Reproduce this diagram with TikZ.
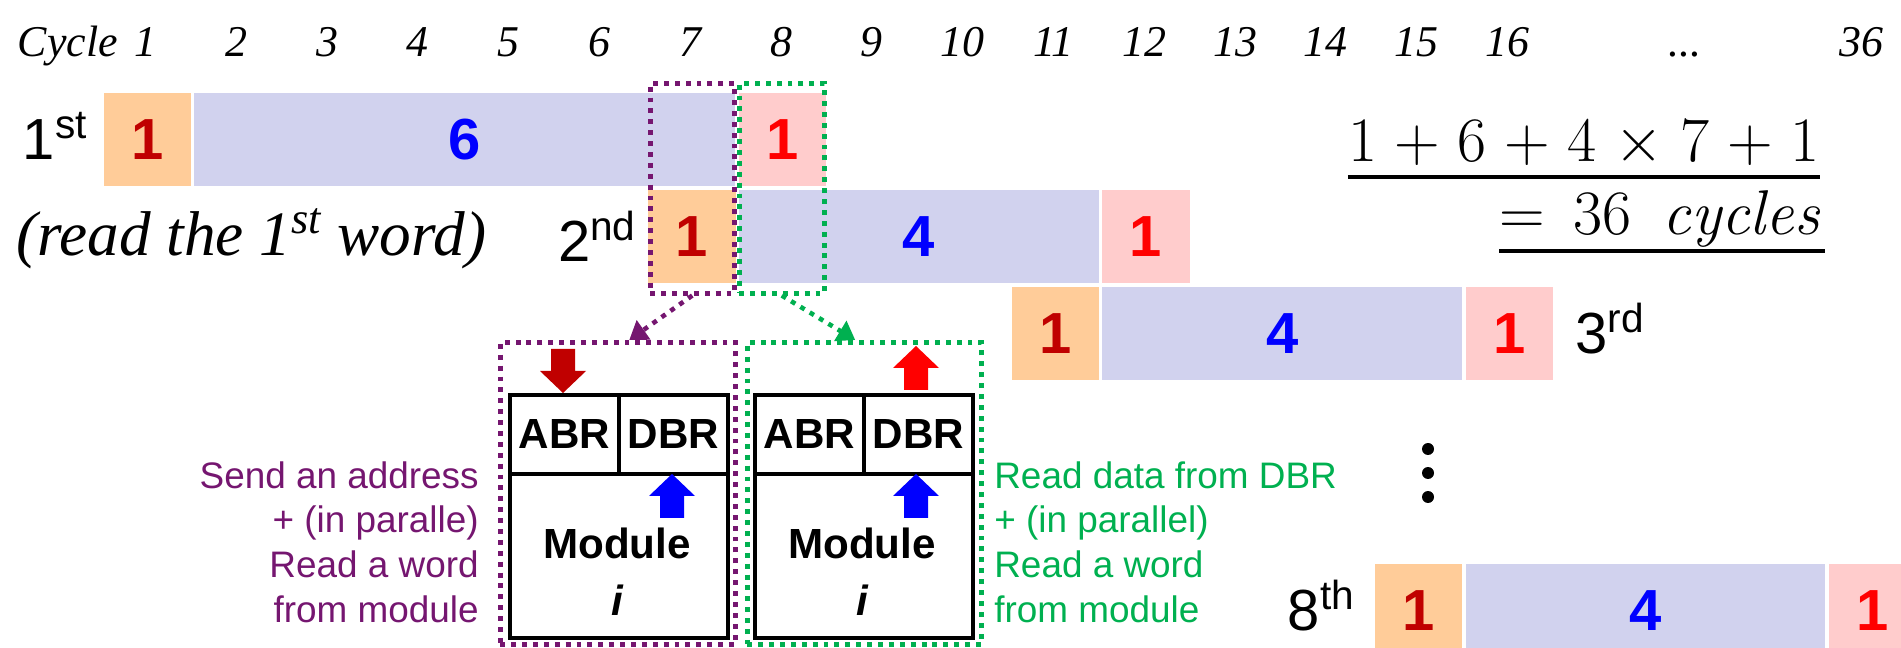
\documentclass[tikz,border=0pt]{standalone}
\usepackage{fix-cm}
\usepackage[no-math]{fontspec}
\setmainfont{Liberation Sans}
\newfontfamily\cyclefont{Liberation Serif}
\usetikzlibrary{positioning, arrows.meta}

\definecolor{addrfill}{RGB}{255,204,153}
\definecolor{waitfill}{RGB}{209,210,238}
\definecolor{xferfill}{RGB}{255,204,204}
\definecolor{addrtext}{RGB}{192,0,0}
\definecolor{waittext}{RGB}{0,0,255}
\definecolor{xfertext}{RGB}{255,0,0}
\definecolor{sendcol}{RGB}{117,22,112}
\definecolor{readcol}{RGB}{0,176,80}

\begin{document}
\begin{tikzpicture}[x=0.02cm, y=-0.02cm,
    cyclab/.style={anchor=base, inner sep=0pt, font=\cyclefont\itshape\fontsize{25}{25}\selectfont},
    slot/.style={draw=white, line width=2pt, anchor=north west, minimum height=1.94cm, inner sep=0pt, font=\bfseries\fontsize{33}{33}\selectfont},
    addr/.style={slot, fill=addrfill, text=addrtext},
    wait/.style={slot, fill=waitfill, text=waittext},
    xfer/.style={slot, fill=xferfill, text=xfertext},
    rowlab/.style={inner sep=0pt, font=\fontsize{33}{33}\selectfont},
    dotbox/.style={line width=2.6pt, dash pattern=on 2.8pt off 3.4pt, inner sep=0pt, anchor=north west},
    link/.style={line width=2.6pt, dash pattern=on 2.8pt off 3.4pt, -{Triangle[length=10pt,width=13pt]}},
    reg/.style={draw, line width=2.2pt, anchor=north west, inner sep=0pt, font=\bfseries\fontsize{24}{24}\selectfont},
    note/.style={inner sep=0pt, font=\fontsize{21}{25.5}\selectfont},
    uparrow/.pic={\fill (-12,44) -- (12,44) -- (12,22) -- (23,22) -- (0,0) -- (-23,22) -- (-12,22) -- cycle;}
  ]
  \useasboundingbox (0,0) rectangle (1901,648);
  \clip (0,0) rectangle (1901,648);

  % cycle numbers along the top
  \foreach \k in {1,...,16}
    \node[cyclab] (c\k) at ({100+(\k-0.5)*90.8},57) {\k};
  \node[cyclab, base left=0.32cm of c1] (cyc) {Cycle};
  \node[cyclab] (cdots) at (1685,57) {...};
  \node[cyclab] (c36) at (1861,57) {36};

  % one row per word: address, access, transfer
  \foreach \nm/\sty/\first/\len/\top/\val in {a1/addr/1/1/89/1, w1/wait/2/6/89/6, x1/xfer/8/1/89/1,
      a2/addr/7/1/186/1, w2/wait/8/4/186/4, x2/xfer/12/1/186/1,
      a3/addr/11/1/283/1, w3/wait/12/4/283/4, x3/xfer/16/1/283/1,
      a8/addr/15/1/560/1, w8/wait/16/4/560/4, x8/xfer/20/1/560/1}
    \node[\sty, minimum width=\len*1.816cm] (\nm) at ({100+(\first-1)*90.8},\top) {\val};

  \node[rowlab, base left=0.24cm of a1] (n1) {1\textsuperscript{st}};
  \node[rowlab, base left=0.16cm of a2, yshift=-0.1cm] (n2) {2\textsuperscript{nd}};
  \node[rowlab, base right=0.38cm of x3] (n3) {3\textsuperscript{rd}};
  \node[rowlab, base left=0.32cm of a8] (n8) {8\textsuperscript{th}};
  \node[anchor=base west, inner sep=0pt, font=\cyclefont\itshape\fontsize{36}{36}\selectfont] (firstword) at (16,256) {(read the 1\textsuperscript{st} word)};

  \foreach \dy in {449,473,497}
    \fill (1428,\dy) circle (0.12cm);

  % total count
  \node[anchor=east, inner sep=0pt, font=\fontsize{36}{36}\selectfont] (sum) at (1820,144) {$\medmuskip=5mu 1+6+4\times7+1$};
  \node[anchor=east, inner sep=0pt, font=\fontsize{36}{36}\selectfont] (total) at (1825,219) {$\thickmuskip=8mu =36\hspace{0.5em}\mathit{cycles}$};
  \draw[line width=2.2pt] ([yshift=-0.2cm]sum.south west) -- ([yshift=-0.2cm]sum.south east);
  \draw[line width=2.2pt] ([yshift=-0.07cm]total.south west) -- ([yshift=-0.07cm]total.south east);

  % cycles 7 and 8 picked out
  \node[dotbox, draw=sendcol, minimum width=1.68cm, minimum height=4.2cm] (sendsel) at (648,81) {};
  \node[dotbox, draw=readcol, minimum width=1.7cm, minimum height=4.2cm] (readsel) at (737,81) {};
  \node[dotbox, draw=sendcol, minimum width=4.7cm, minimum height=6.04cm] (sendbox) at (498,340) {};
  \node[dotbox, draw=readcol, minimum width=4.68cm, minimum height=6.04cm] (readbox) at (745,340) {};
  \draw[link, sendcol] (sendsel.south) -- ([xshift=0.23cm]sendbox.north);
  \draw[link, readcol] (readsel.south) -- ([xshift=-0.18cm]readbox.north);

  % memory module, sending side
  \node[reg, minimum width=2.18cm, minimum height=1.58cm] (abrS) at (508,393) {ABR};
  \node[reg, minimum width=2.18cm, minimum height=1.58cm] (dbrS) at (617,393) {DBR};
  \node[reg, minimum width=4.36cm, minimum height=3.28cm] (modS) at (508,472) {};
  \node[font=\bfseries\fontsize{24}{24}\selectfont, inner sep=0pt] (modSname) at (617,543) {Module};
  \node[font=\bfseries\itshape\fontsize{24}{24}\selectfont, inner sep=0pt] (modSi) at (617,600) {i};
  \pic[addrtext, yscale=-1] at (563,393) {uparrow};
  \pic[waittext] at (672,474) {uparrow};

  % memory module, reading side
  \node[reg, minimum width=2.18cm, minimum height=1.58cm] (abrR) at (753,393) {ABR};
  \node[reg, minimum width=2.18cm, minimum height=1.58cm] (dbrR) at (862,393) {DBR};
  \node[reg, minimum width=4.36cm, minimum height=3.28cm] (modR) at (753,472) {};
  \node[font=\bfseries\fontsize{24}{24}\selectfont, inner sep=0pt] (modRname) at (862,543) {Module};
  \node[font=\bfseries\itshape\fontsize{24}{24}\selectfont, inner sep=0pt] (modRi) at (862,600) {i};
  \pic[xfertext] at (916,346) {uparrow};
  \pic[waittext] at (916,474) {uparrow};

  \node[note, text=sendcol, align=right, anchor=north east] (sendnote) at (479,461) {Send an address\\+ (in paralle)\\Read a word\\from module};
  \node[note, text=readcol, align=left, anchor=north west] (readnote) at (994,461) {Read data from DBR\\+ (in parallel)\\Read a word\\from module};

\end{tikzpicture}
\end{document}
